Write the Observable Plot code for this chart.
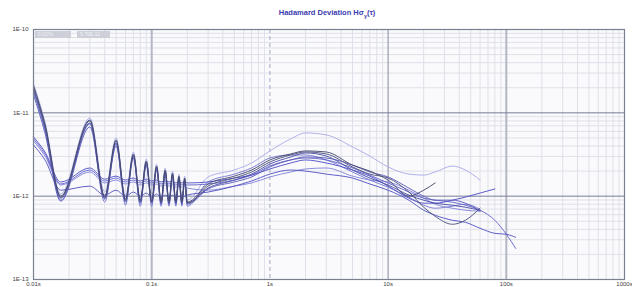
<!DOCTYPE html>
<html><head><meta charset="utf-8">
<script src="https://cdn.jsdelivr.net/npm/d3@7"></script>
<script src="https://cdn.jsdelivr.net/npm/@observablehq/plot@0.6"></script>
<style>
body{margin:0;background:#fff;}
#wrap{position:relative;width:632px;height:287px;font-family:"Liberation Sans",Arial,sans-serif;}
#title{position:absolute;left:227px;width:200px;top:8px;text-align:center;font-weight:bold;font-size:7.5px;color:#3b3bb0;white-space:nowrap;}
#title sub{font-size:5.5px;}
.box{position:absolute;top:31px;height:7px;background:#cdd0d8;color:#eef0f5;font-size:5px;line-height:7px;padding-left:3px;box-sizing:border-box;}
</style></head>
<body><div id="wrap"><div id="chart"></div>
<div id="title">Hadamard Deviation Hσ<sub>y</sub>(τ)</div>
<div class="box" style="left:35px;width:36px">0.027s</div>
<div class="box" style="left:77px;width:33px">5.70E-11</div>
</div>
<script>
// averaging times (s)
const tauOsc = [0.01, 0.0125, 0.017, 0.03, 0.04, 0.05, 0.06, 0.07, 0.08, 0.09, 0.10, 0.11, 0.12, 0.13, 0.14, 0.15, 0.16, 0.17, 0.18, 0.19];
const tauLong = [0.2, 0.3, 0.5, 0.7, 1, 1.5, 2, 3, 5, 7, 10, 15, 20, 25, 35, 45, 60, 80, 100, 120];

// Hadamard deviation per run
const run1 = [2.24e-11, 7.79e-12, 1.06e-12, 8.71e-12, 1.12e-12, 5.00e-12, 1.00e-12, 3.39e-12, 9.46e-13, 2.79e-12, 9.20e-13, 2.43e-12, 8.95e-13, 2.18e-12, 8.95e-13, 2.00e-12, 8.95e-13, 1.84e-12, 8.95e-13, 1.74e-12,
  8.95e-13, 1.70e-12, 2.06e-12, 2.50e-12, 3.49e-12, 4.86e-12, 5.74e-12, 5.43e-12, 3.90e-12, 3.03e-12, 2.24e-12, 1.84e-12, 1.79e-12, 1.95e-12, 2.30e-12, 2.06e-12, 1.56e-12];
const run2 = [2.12e-11, 7.37e-12, 1.00e-12, 8.24e-12, 1.00e-12, 4.73e-12, 9.20e-13, 3.21e-12, 8.95e-13, 2.64e-12, 8.71e-13, 2.30e-12, 8.71e-13, 2.06e-12, 8.71e-13, 1.89e-12, 8.71e-13, 1.74e-12, 8.71e-13, 1.65e-12,
  8.47e-13, 1.40e-12, 1.74e-12, 2.06e-12, 2.72e-12, 3.21e-12, 3.49e-12, 3.39e-12, 2.36e-12, 2.00e-12, 1.56e-12, 1.00e-12, 1.18e-12, 1.44e-12];
const run3 = [2.00e-11, 6.97e-12, 9.73e-13, 8.01e-12, 9.73e-13, 4.60e-12, 8.95e-13, 3.12e-12, 8.71e-13, 2.57e-12, 8.47e-13, 2.24e-12, 8.47e-13, 2.00e-12, 8.47e-13, 1.84e-12, 8.47e-13, 1.70e-12, 8.47e-13, 1.60e-12,
  8.24e-13, 1.32e-12, 1.65e-12, 1.95e-12, 2.57e-12, 3.12e-12, 3.39e-12, 3.21e-12, 2.24e-12, 1.84e-12, 1.65e-12, 1.12e-12, 7.37e-13, 5.74e-13, 4.60e-13, 5.14e-13, 7.17e-13];
const run4 = [1.89e-11, 6.60e-12, 9.46e-13, 7.58e-12, 9.46e-13, 4.35e-12, 8.71e-13, 3.03e-12, 8.47e-13, 2.50e-12, 8.47e-13, 2.18e-12, 8.24e-13, 1.95e-12, 8.24e-13, 1.79e-12, 8.24e-13, 1.65e-12, 8.24e-13, 1.56e-12,
  8.24e-13, 1.25e-12, 1.56e-12, 1.84e-12, 2.43e-12, 2.95e-12, 3.30e-12, 3.03e-12, 2.06e-12, 1.65e-12, 1.36e-12, 1.03e-12, 8.95e-13, 8.24e-13, 7.79e-13, 7.37e-13, 6.78e-13];
const run5 = [1.79e-11, 6.24e-12, 8.95e-13, 7.37e-12, 8.47e-13, 4.23e-12, 7.79e-13, 2.95e-12, 7.58e-13, 2.43e-12, 7.58e-13, 2.12e-12, 7.58e-13, 1.89e-12, 7.58e-13, 1.74e-12, 7.58e-13, 1.60e-12, 7.58e-13, 1.52e-12,
  7.58e-13, 1.48e-12, 1.84e-12, 2.18e-12, 2.87e-12, 3.12e-12, 3.12e-12, 2.72e-12, 1.95e-12, 1.56e-12, 1.28e-12, 9.73e-13, 7.79e-13, 7.17e-13, 7.58e-13, 8.01e-13, 6.97e-13];
const run6 = [1.65e-11, 5.74e-12, 8.71e-13, 6.78e-12, 9.20e-13, 4.00e-12, 8.47e-13, 2.87e-12, 8.24e-13, 2.36e-12, 8.24e-13, 2.06e-12, 8.01e-13, 1.84e-12, 8.01e-13, 1.70e-12, 8.01e-13, 1.56e-12, 8.01e-13, 1.48e-12,
  8.01e-13, 1.22e-12, 1.48e-12, 1.70e-12, 2.24e-12, 2.72e-12, 2.95e-12, 2.87e-12, 2.36e-12, 1.95e-12, 1.70e-12, 1.25e-12, 1.00e-12, 8.95e-13, 8.95e-13, 8.24e-13, 6.60e-13];
const run7 = [5.14e-12, 3.39e-12, 1.48e-12, 2.18e-12, 1.60e-12, 1.74e-12, 1.56e-12, 1.65e-12, 1.52e-12, 1.60e-12, 1.52e-12, 1.56e-12, 1.48e-12, 1.52e-12, 1.48e-12, 1.52e-12, 1.44e-12, 1.48e-12, 1.44e-12, 1.48e-12,
  1.44e-12, 1.48e-12, 1.65e-12, 1.79e-12, 2.12e-12, 2.50e-12, 2.72e-12, 2.50e-12, 2.06e-12, 1.74e-12, 1.32e-12, 9.46e-13, 8.24e-13, 8.24e-13, 8.95e-13, 9.73e-13, 1.09e-12, 1.22e-12];
const run8 = [4.86e-12, 3.21e-12, 1.40e-12, 2.06e-12, 1.52e-12, 1.65e-12, 1.48e-12, 1.56e-12, 1.44e-12, 1.52e-12, 1.44e-12, 1.48e-12, 1.40e-12, 1.44e-12, 1.40e-12, 1.44e-12, 1.36e-12, 1.40e-12, 1.36e-12, 1.40e-12,
  1.36e-12, 1.40e-12, 1.56e-12, 1.79e-12, 2.30e-12, 2.72e-12, 2.87e-12, 2.72e-12, 2.18e-12, 1.79e-12, 1.44e-12, 1.12e-12, 9.46e-13, 8.95e-13, 8.47e-13, 7.79e-13, 6.78e-13, 5.14e-13, 3.49e-13, 2.36e-13];
const run9 = [4.60e-12, 3.03e-12, 1.36e-12, 1.95e-12, 1.44e-12, 1.56e-12, 1.40e-12, 1.48e-12, 1.36e-12, 1.44e-12, 1.36e-12, 1.40e-12, 1.32e-12, 1.36e-12, 1.32e-12, 1.36e-12, 1.28e-12, 1.32e-12, 1.28e-12, 1.32e-12,
  1.25e-12, 1.18e-12, 1.32e-12, 1.44e-12, 1.70e-12, 1.95e-12, 2.12e-12, 2.18e-12, 1.74e-12, 1.56e-12, 1.48e-12, 1.18e-12, 9.46e-13, 8.01e-13, 7.17e-13, 6.78e-13, 6.60e-13];
const run10 = [4.12e-12, 2.72e-12, 1.18e-12, 1.32e-12, 1.03e-12, 1.18e-12, 1.00e-12, 1.12e-12, 1.00e-12, 1.09e-12, 9.73e-13, 1.06e-12, 9.73e-13, 1.03e-12, 9.73e-13, 1.03e-12, 9.73e-13, 1.00e-12, 9.73e-13, 1.00e-12,
  1.03e-12, 1.12e-12, 1.32e-12, 1.52e-12, 1.84e-12, 2.06e-12, 2.00e-12, 1.84e-12, 1.65e-12, 1.40e-12, 1.18e-12, 8.95e-13, 6.78e-13, 5.90e-13, 5.14e-13, 4.86e-13, 4.12e-13, 3.58e-13, 3.49e-13, 3.21e-13];

const xTicks = [0.01, 0.1, 1, 10, 100, 1000];
const xTickLabels = ["0.01s", "0.1s", "1s", "10s", "100s", "1000s"];
const yTicks = [1e-13, 1e-12, 1e-11, 1e-10];
const yTickLabels = ["1E-13", "1E-12", "1E-11", "1E-10"];

// drawing order and styles
const runs = [run1, run9, run5, run8, run10, run7, run6, run4, run3, run2];
const runColors = ["#acacea", "#8686da", "#7a7ad4", "#6767cc", "#5656c4", "#5252c8", "#6060bc", "#4c50aa", "#515680", "#474b70"];

const tauAll = tauOsc.concat(tauLong);
const marks = [
  Plot.frame({fill: "#fafafc"}),
];
const minorX = d3.scaleLog().domain([0.01, 1000]).ticks().filter(d => !xTicks.some(t => Math.abs(t - d) / t < 1e-9));
const minorY = d3.scaleLog().domain([1e-13, 1e-10]).ticks().filter(d => !yTicks.some(t => Math.abs(t - d) / t < 1e-9));
marks.push(Plot.ruleX(minorX, {stroke: "#dfe0e9", strokeWidth: 1}));
marks.push(Plot.ruleY(minorY, {stroke: "#dfe0e9", strokeWidth: 1}));
marks.push(Plot.ruleX([0.1, 100], {stroke: "#b3b7c3", strokeWidth: 2}));
marks.push(Plot.ruleX([10], {stroke: "#868b9e", strokeWidth: 1}));
marks.push(Plot.ruleX([1], {stroke: "#a4a6c4", strokeWidth: 1, strokeDasharray: "4,3"}));
marks.push(Plot.ruleY([1e-12, 1e-11], {stroke: "#767d98", strokeWidth: 1}));
runs.forEach((vals, i) => {
  const rows = vals.map((v, j) => ({tau: tauAll[j], dev: v}));
  marks.push(Plot.line(rows, {x: "tau", y: "dev", stroke: runColors[i], strokeWidth: 0.95, curve: "monotone-x"}));
});
marks.push(Plot.frame({stroke: "#7a8090", strokeWidth: 1.2}));
marks.push(Plot.axisX(xTicks, {label: null, tickSize: 0, tickPadding: 2, fontSize: 6, fill: "#444", tickFormat: d => xTickLabels[xTicks.indexOf(d)]}));
marks.push(Plot.axisY(yTicks, {label: null, tickSize: 0, tickPadding: 5, fontSize: 6, fill: "#444", tickFormat: d => yTickLabels[yTicks.findIndex(t => Math.abs(t - d) / t < 1e-9)]}));

const chart = Plot.plot({
  width: 632, height: 287,
  marginLeft: 33, marginRight: 8, marginTop: 29, marginBottom: 8,
  x: {type: "log", domain: [0.01, 1000], label: null},
  y: {type: "log", domain: [1e-13, 1e-10], label: null},
  style: {background: "white", fontFamily: "'Liberation Sans', Arial, sans-serif", overflow: "visible"},
  marks
});
document.getElementById("chart").appendChild(chart);
</script></body></html>
